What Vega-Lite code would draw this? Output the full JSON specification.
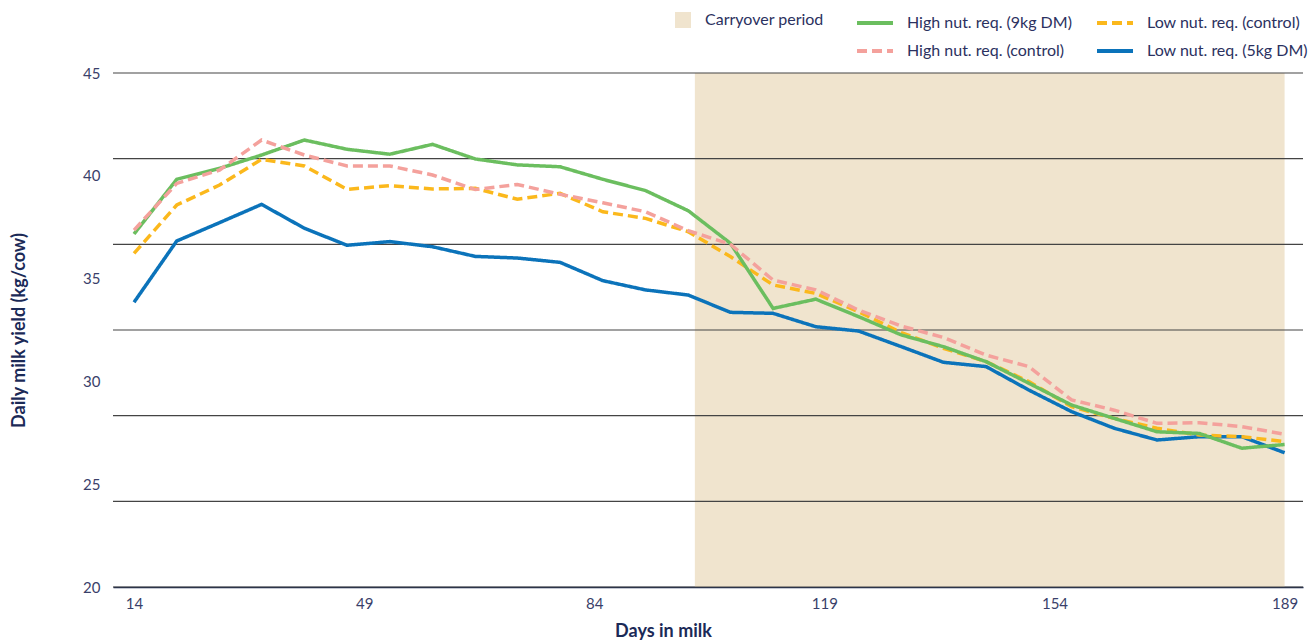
{
  "$schema": "https://vega.github.io/schema/vega-lite/v6.json",
  "width": 1190,
  "height": 514,
  "autosize": {"type": "none"},
  "padding": {"left": 113, "top": 73, "right": 13, "bottom": 54},
  "background": "white",
  "config": {"font": "Lato", "view": {"stroke": null}},
  "datasets": {
    "carry": [{"start": 99.3, "end": 189}],
    "grid": [{"g": 20}, {"g": 24.1667}, {"g": 28.3333}, {"g": 32.5}, {"g": 36.6667}, {"g": 40.8333}, {"g": 45}],
    "milk": [
      {"day": 14, "series": "Low nut. req. (5kg DM)", "yield": 33.85},
      {"day": 20.5, "series": "Low nut. req. (5kg DM)", "yield": 36.83},
      {"day": 27, "series": "Low nut. req. (5kg DM)", "yield": 37.72},
      {"day": 33.4, "series": "Low nut. req. (5kg DM)", "yield": 38.61},
      {"day": 39.9, "series": "Low nut. req. (5kg DM)", "yield": 37.45},
      {"day": 46.4, "series": "Low nut. req. (5kg DM)", "yield": 36.62},
      {"day": 52.9, "series": "Low nut. req. (5kg DM)", "yield": 36.8},
      {"day": 59.4, "series": "Low nut. req. (5kg DM)", "yield": 36.55},
      {"day": 65.9, "series": "Low nut. req. (5kg DM)", "yield": 36.08},
      {"day": 72.3, "series": "Low nut. req. (5kg DM)", "yield": 36.0},
      {"day": 78.8, "series": "Low nut. req. (5kg DM)", "yield": 35.79},
      {"day": 85.3, "series": "Low nut. req. (5kg DM)", "yield": 34.9},
      {"day": 91.8, "series": "Low nut. req. (5kg DM)", "yield": 34.45},
      {"day": 98.3, "series": "Low nut. req. (5kg DM)", "yield": 34.2},
      {"day": 104.7, "series": "Low nut. req. (5kg DM)", "yield": 33.36},
      {"day": 111.2, "series": "Low nut. req. (5kg DM)", "yield": 33.31},
      {"day": 117.7, "series": "Low nut. req. (5kg DM)", "yield": 32.66},
      {"day": 124.2, "series": "Low nut. req. (5kg DM)", "yield": 32.45},
      {"day": 130.7, "series": "Low nut. req. (5kg DM)", "yield": 31.69},
      {"day": 137.1, "series": "Low nut. req. (5kg DM)", "yield": 30.93},
      {"day": 143.6, "series": "Low nut. req. (5kg DM)", "yield": 30.72},
      {"day": 150.1, "series": "Low nut. req. (5kg DM)", "yield": 29.58},
      {"day": 156.6, "series": "Low nut. req. (5kg DM)", "yield": 28.53},
      {"day": 163.1, "series": "Low nut. req. (5kg DM)", "yield": 27.72},
      {"day": 169.6, "series": "Low nut. req. (5kg DM)", "yield": 27.15},
      {"day": 176, "series": "Low nut. req. (5kg DM)", "yield": 27.31},
      {"day": 182.5, "series": "Low nut. req. (5kg DM)", "yield": 27.31},
      {"day": 189, "series": "Low nut. req. (5kg DM)", "yield": 26.53},

      {"day": 14, "series": "Low nut. req. (control)", "yield": 36.23},
      {"day": 20.5, "series": "Low nut. req. (control)", "yield": 38.58},
      {"day": 27, "series": "Low nut. req. (control)", "yield": 39.55},
      {"day": 33.4, "series": "Low nut. req. (control)", "yield": 40.8},
      {"day": 39.9, "series": "Low nut. req. (control)", "yield": 40.48},
      {"day": 46.4, "series": "Low nut. req. (control)", "yield": 39.34},
      {"day": 52.9, "series": "Low nut. req. (control)", "yield": 39.52},
      {"day": 59.4, "series": "Low nut. req. (control)", "yield": 39.36},
      {"day": 65.9, "series": "Low nut. req. (control)", "yield": 39.39},
      {"day": 72.3, "series": "Low nut. req. (control)", "yield": 38.86},
      {"day": 78.8, "series": "Low nut. req. (control)", "yield": 39.15},
      {"day": 85.3, "series": "Low nut. req. (control)", "yield": 38.25},
      {"day": 91.8, "series": "Low nut. req. (control)", "yield": 37.93},
      {"day": 98.3, "series": "Low nut. req. (control)", "yield": 37.28},
      {"day": 104.7, "series": "Low nut. req. (control)", "yield": 36.07},
      {"day": 111.2, "series": "Low nut. req. (control)", "yield": 34.69},
      {"day": 117.7, "series": "Low nut. req. (control)", "yield": 34.28},
      {"day": 124.2, "series": "Low nut. req. (control)", "yield": 33.39},
      {"day": 130.7, "series": "Low nut. req. (control)", "yield": 32.37},
      {"day": 137.1, "series": "Low nut. req. (control)", "yield": 31.61},
      {"day": 143.6, "series": "Low nut. req. (control)", "yield": 30.96},
      {"day": 150.1, "series": "Low nut. req. (control)", "yield": 29.99},
      {"day": 156.6, "series": "Low nut. req. (control)", "yield": 28.77},
      {"day": 163.1, "series": "Low nut. req. (control)", "yield": 28.2},
      {"day": 169.6, "series": "Low nut. req. (control)", "yield": 27.72},
      {"day": 176, "series": "Low nut. req. (control)", "yield": 27.39},
      {"day": 182.5, "series": "Low nut. req. (control)", "yield": 27.31},
      {"day": 189, "series": "Low nut. req. (control)", "yield": 27.07},

      {"day": 14, "series": "High nut. req. (9kg DM)", "yield": 37.17},
      {"day": 20.5, "series": "High nut. req. (9kg DM)", "yield": 39.83},
      {"day": 27, "series": "High nut. req. (9kg DM)", "yield": 40.36},
      {"day": 33.4, "series": "High nut. req. (9kg DM)", "yield": 41.01},
      {"day": 39.9, "series": "High nut. req. (9kg DM)", "yield": 41.74},
      {"day": 46.4, "series": "High nut. req. (9kg DM)", "yield": 41.29},
      {"day": 52.9, "series": "High nut. req. (9kg DM)", "yield": 41.05},
      {"day": 59.4, "series": "High nut. req. (9kg DM)", "yield": 41.53},
      {"day": 65.9, "series": "High nut. req. (9kg DM)", "yield": 40.82},
      {"day": 72.3, "series": "High nut. req. (9kg DM)", "yield": 40.53},
      {"day": 78.8, "series": "High nut. req. (9kg DM)", "yield": 40.44},
      {"day": 85.3, "series": "High nut. req. (9kg DM)", "yield": 39.83},
      {"day": 91.8, "series": "High nut. req. (9kg DM)", "yield": 39.28},
      {"day": 98.3, "series": "High nut. req. (9kg DM)", "yield": 38.3},
      {"day": 104.7, "series": "High nut. req. (9kg DM)", "yield": 36.72},
      {"day": 111.2, "series": "High nut. req. (9kg DM)", "yield": 33.55},
      {"day": 117.7, "series": "High nut. req. (9kg DM)", "yield": 34.0},
      {"day": 124.2, "series": "High nut. req. (9kg DM)", "yield": 33.15},
      {"day": 130.7, "series": "High nut. req. (9kg DM)", "yield": 32.26},
      {"day": 137.1, "series": "High nut. req. (9kg DM)", "yield": 31.69},
      {"day": 143.6, "series": "High nut. req. (9kg DM)", "yield": 30.96},
      {"day": 150.1, "series": "High nut. req. (9kg DM)", "yield": 29.91},
      {"day": 156.6, "series": "High nut. req. (9kg DM)", "yield": 28.85},
      {"day": 163.1, "series": "High nut. req. (9kg DM)", "yield": 28.2},
      {"day": 169.6, "series": "High nut. req. (9kg DM)", "yield": 27.55},
      {"day": 176, "series": "High nut. req. (9kg DM)", "yield": 27.47},
      {"day": 182.5, "series": "High nut. req. (9kg DM)", "yield": 26.75},
      {"day": 189, "series": "High nut. req. (9kg DM)", "yield": 26.93},

      {"day": 14, "series": "High nut. req. (control)", "yield": 37.36},
      {"day": 20.5, "series": "High nut. req. (control)", "yield": 39.63},
      {"day": 27, "series": "High nut. req. (control)", "yield": 40.28},
      {"day": 33.4, "series": "High nut. req. (control)", "yield": 41.74},
      {"day": 39.9, "series": "High nut. req. (control)", "yield": 41.01},
      {"day": 46.4, "series": "High nut. req. (control)", "yield": 40.48},
      {"day": 52.9, "series": "High nut. req. (control)", "yield": 40.48},
      {"day": 59.4, "series": "High nut. req. (control)", "yield": 40.04},
      {"day": 65.9, "series": "High nut. req. (control)", "yield": 39.33},
      {"day": 72.3, "series": "High nut. req. (control)", "yield": 39.58},
      {"day": 78.8, "series": "High nut. req. (control)", "yield": 39.1},
      {"day": 85.3, "series": "High nut. req. (control)", "yield": 38.69},
      {"day": 91.8, "series": "High nut. req. (control)", "yield": 38.25},
      {"day": 98.3, "series": "High nut. req. (control)", "yield": 37.33},
      {"day": 104.7, "series": "High nut. req. (control)", "yield": 36.67},
      {"day": 111.2, "series": "High nut. req. (control)", "yield": 34.93},
      {"day": 117.7, "series": "High nut. req. (control)", "yield": 34.45},
      {"day": 124.2, "series": "High nut. req. (control)", "yield": 33.47},
      {"day": 130.7, "series": "High nut. req. (control)", "yield": 32.69},
      {"day": 137.1, "series": "High nut. req. (control)", "yield": 32.14},
      {"day": 143.6, "series": "High nut. req. (control)", "yield": 31.28},
      {"day": 150.1, "series": "High nut. req. (control)", "yield": 30.72},
      {"day": 156.6, "series": "High nut. req. (control)", "yield": 29.1},
      {"day": 163.1, "series": "High nut. req. (control)", "yield": 28.6},
      {"day": 169.6, "series": "High nut. req. (control)", "yield": 27.96},
      {"day": 176, "series": "High nut. req. (control)", "yield": 27.99},
      {"day": 182.5, "series": "High nut. req. (control)", "yield": 27.8},
      {"day": 189, "series": "High nut. req. (control)", "yield": 27.43}
    ]
  },
  "layer": [
    {
      "data": {"name": "carry"},
      "mark": {"type": "rect"},
      "encoding": {
        "x": {"field": "start", "type": "quantitative", "title": "Days in milk",
          "scale": {"domain": [10.8, 191.8], "nice": false, "zero": false},
          "axis": {"values": [14, 49, 84, 119, 154, 189], "grid": false, "ticks": false,
            "domain": true, "domainColor": "#14254F", "domainWidth": 1.5,
            "labelFontSize": 15, "labelColor": "#3A3F6A", "labelPadding": 9,
            "title": "Days in milk", "titleFontSize": 18, "titleFontWeight": "bold", "titleColor": "#1B2A57",
            "titleX": 550, "titleY": 35, "titleBaseline": "top", "titleAnchor": null}},
        "x2": {"field": "end"},
        "y": {"datum": 20, "type": "quantitative", "title": "Daily milk yield (kg/cow)",
          "scale": {"domain": [20, 45], "nice": false, "zero": false},
          "axis": {"values": [20, 25, 30, 35, 40, 45], "grid": false, "ticks": false, "domain": false,
            "labelFontSize": 15, "labelColor": "#3A3F6A", "labelPadding": 13,
            "title": "Daily milk yield (kg/cow)", "titleFontSize": 18, "titleFontWeight": "bold", "titleColor": "#1B2A57",
            "titlePadding": 54}},
        "y2": {"datum": 45},
        "fill": {"datum": "Carryover period", "scale": {"range": ["#F0E4CE"]},
          "legend": {"orient": "none", "legendX": 562, "legendY": -61, "title": null,
            "symbolType": "square", "symbolSize": 256, "symbolStrokeWidth": 0,
            "labelFontSize": 16, "labelColor": "#2B3160", "labelOffset": 14, "labelLimit": 300}}
      }
    },
    {
      "data": {"name": "grid"},
      "mark": {"type": "rule", "color": "#444444", "strokeWidth": 1.2},
      "encoding": {
        "y": {"field": "g", "type": "quantitative", "title": "Daily milk yield (kg/cow)",
          "scale": {"domain": [20, 45], "nice": false, "zero": false}}
      }
    },
    {
      "data": {"name": "milk"},
      "mark": {"type": "line", "strokeWidth": 3.5, "strokeJoin": "miter"},
      "encoding": {
        "x": {"field": "day", "type": "quantitative", "title": "Days in milk",
          "scale": {"domain": [10.8, 191.8], "nice": false, "zero": false}},
        "y": {"field": "yield", "type": "quantitative", "title": "Daily milk yield (kg/cow)",
          "scale": {"domain": [20, 45], "nice": false, "zero": false}},
        "color": {"field": "series", "type": "nominal",
          "scale": {"domain": ["High nut. req. (9kg DM)", "High nut. req. (control)", "Low nut. req. (control)", "Low nut. req. (5kg DM)"],
            "range": ["#6BBE5F", "#F4A19C", "#FBB81C", "#0B73BA"]},
          "legend": {"orient": "none", "legendX": 742, "legendY": -70, "title": null, "columns": 2,
            "columnPadding": 17, "rowPadding": -14, "symbolType": "stroke", "symbolSize": 1296,
            "symbolStrokeWidth": 4, "labelFontSize": 16, "labelColor": "#2B3160", "labelOffset": 12, "labelLimit": 300}},
        "strokeDash": {"field": "series", "type": "nominal",
          "scale": {"domain": ["High nut. req. (9kg DM)", "High nut. req. (control)", "Low nut. req. (control)", "Low nut. req. (5kg DM)"],
            "range": [[1, 0], [10, 5], [10, 5], [1, 0]]},
          "legend": {"orient": "none", "legendX": 742, "legendY": -70, "title": null, "columns": 2,
            "columnPadding": 17, "rowPadding": -14, "symbolType": "stroke", "symbolSize": 1296,
            "symbolStrokeWidth": 4, "labelFontSize": 16, "labelColor": "#2B3160", "labelOffset": 12, "labelLimit": 300}}
      }
    }
  ]
}
